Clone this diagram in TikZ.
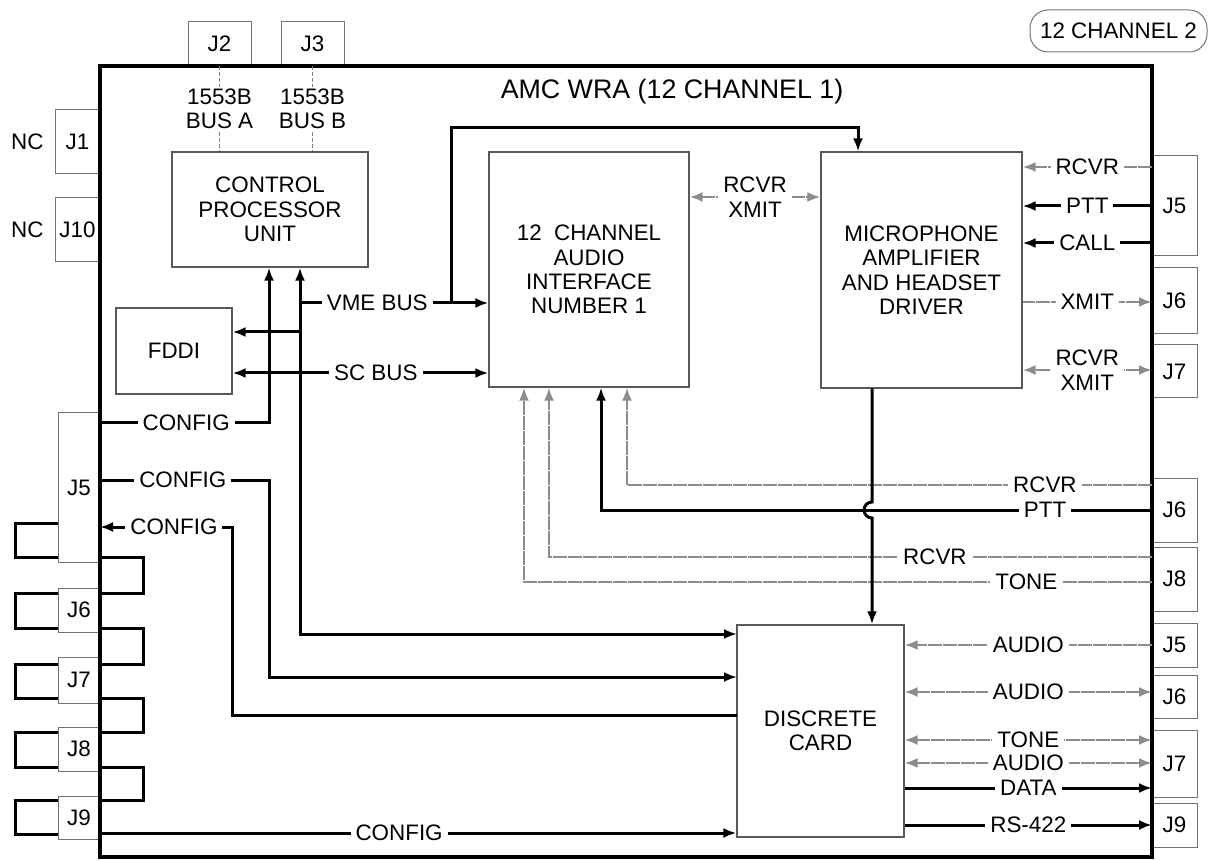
\documentclass[tikz,border=0pt]{standalone}
\usepackage{fontspec}
\setmainfont{Liberation Sans}
\usetikzlibrary{arrows.meta,positioning}
\newcommand\lblfont{\fontsize{11.2}{12.2}\selectfont}

\begin{document}
\begin{tikzpicture}[x=0.5pt,y=-0.5pt,font=\lblfont,>={Latex[length=6.5pt,width=5pt]},
  blk/.style={draw=black!65,line width=0.6pt,fill=white,align=center,inner sep=0pt},
  jbox/.style={draw=black!55,line width=0.5pt,fill=white,inner sep=0pt,minimum width=22.5pt},
  bsig/.style={line width=1.5pt,black},
  gsig/.style={line width=1.2pt,black!45,dash pattern=on 7pt off 0.5pt},
  tsig/.style={line width=0.6pt,black!50,dash pattern=on 2pt off 1pt},
  wire/.style={line width=1.5pt,black},
  lbl/.style={fill=white,text=black,inner xsep=2.5pt,inner ysep=1.5pt,align=center}]
\useasboundingbox (0,0) rectangle (1211,861);

% loop-back wiring on the left
\foreach \a/\b in {523/557,593/628,664/698,732/767,800/834}
  \draw[wire] (58,\a) -- (15,\a) -- (15,\b) -- (58,\b);
\foreach \a/\b in {557/593,628/664,698/732,767/800}
  \draw[wire] (100,\a) -- (143,\a) -- (143,\b) -- (100,\b);

% connectors
\node[jbox,minimum width=31.5pt,minimum height=22pt] (J2) at (219.5,44) {J2};
\node[jbox,minimum width=31.5pt,minimum height=22pt] (J3) at (312.5,44) {J3};
\node[jbox,minimum height=32pt] (J1) at (77.5,142) {J1};
\node[jbox,minimum height=32pt] (J10) at (77.5,230) {J10};
\node[left=2pt of J1] (nc1) {NC};
\node[left=2pt of J10] (nc10) {NC};
\node[jbox,minimum width=21pt,minimum height=74.5pt] (lJ5) at (79,487.5) {J5};
\node[jbox,minimum width=21pt,minimum height=22pt] (lJ6) at (79,610) {J6};
\node[jbox,minimum width=21pt,minimum height=23pt] (lJ7) at (79,680) {J7};
\node[jbox,minimum width=21pt,minimum height=22pt] (lJ8) at (79,749) {J8};
\node[jbox,minimum width=21pt,minimum height=21.5pt] (lJ9) at (79,817.5) {J9};
\node[jbox,minimum height=50pt] (rJ5a) at (1174.5,206) {J5};
\node[jbox,minimum height=33pt] (rJ6a) at (1174.5,301) {J6};
\node[jbox,minimum height=26.5pt] (rJ7a) at (1174.5,371.5) {J7};
\node[jbox,minimum height=32pt] (rJ6b) at (1174.5,510) {J6};
\node[jbox,minimum height=32pt] (rJ8) at (1174.5,579) {J8};
\node[jbox,minimum height=22pt] (rJ5b) at (1174.5,645) {J5};
\node[jbox,minimum height=21.5pt] (rJ6c) at (1174.5,696.5) {J6};
\node[jbox,minimum height=33.5pt] (rJ7b) at (1174.5,763.5) {J7};
\node[jbox,minimum height=22pt] (rJ9) at (1174.5,825) {J9};

\node[draw=black!55,line width=0.5pt,rounded corners=9pt,minimum width=88.5pt,minimum height=21pt] (ch2) at (1118.5,31) {12 CHANNEL 2};

% unit outline and blocks
\node[draw=black,line width=1.6pt,minimum width=526pt,minimum height=395.5pt,inner sep=0pt] (wra) at (626,461.5) {};
\node[font=\fontsize{13.4}{15}\selectfont] (title) at (672,92) {AMC WRA (12 CHANNEL 1)};
\node[blk,minimum width=98pt,minimum height=57.5pt] (cpu) at (270,209.5) {CONTROL\\PROCESSOR\\UNIT};
\node[blk,minimum width=58pt,minimum height=43pt] (fddi) at (174,351) {FDDI};
\node[blk,minimum width=100pt,minimum height=117.5pt] (aif) at (589,269.5) {12~~CHANNEL\\AUDIO\\INTERFACE\\NUMBER 1};
\node[blk,minimum width=100.5pt,minimum height=118pt] (mic) at (921.5,270) {MICROPHONE\\AMPLIFIER\\AND HEADSET\\DRIVER};
\node[blk,minimum width=83.5pt,minimum height=106pt] (disc) at (820.5,731) {DISCRETE\\CARD};

\coordinate (xA) at (269,0);
\coordinate (xB) at (300,0);
\coordinate (xC) at (232,0);
\coordinate (cf1) at (100,423);
\coordinate (cf2) at (100,480);
\coordinate (cf3) at (100,527);
\coordinate (cf4) at (100,833);
\coordinate (vme) at (300,303);
\coordinate (tap) at (451,303);
\coordinate (mtop) at (858,128);
\coordinate (fd) at (300,332);
\coordinate (sc) at (300,373);
\coordinate (dA) at (737,634);
\coordinate (dB) at (737,677);
\coordinate (dC) at (737,715);
\coordinate (rx) at (689,197);

% bus lines
\draw[tsig] (J2.south) -- node[lbl,inner ysep=1pt]{1553B\\BUS A} (cpu.north -| J2.south);
\draw[tsig] (J3.south) -- node[lbl,inner ysep=1pt]{1553B\\BUS B} (cpu.north -| J3.south);
\draw[bsig,->] (cf1) -- node[lbl,pos=0.51]{CONFIG} (cf1 -| xA) -- (cpu.south -| xA);
\draw[bsig,<->] (cpu.south -| xB) |- (dA);
\draw[bsig,->] (vme) -- node[lbl,pos=0.41]{VME BUS} (aif.west |- vme);
\draw[bsig,->] (tap) |- (mtop) -- (mic.north -| mtop);
\draw[bsig,->] (fd) -- (fddi.east |- fd);
\draw[bsig,<->] (fddi.east |- sc) -- node[lbl,pos=0.56]{SC BUS} (aif.west |- sc);
\draw[bsig,->] (cf2) -- node[lbl,pos=0.49]{CONFIG} (cf2 -| xA) |- (dB);
\draw[bsig,->] (dC) -| (cf3 -| xC) -- node[lbl,pos=0.44]{CONFIG} (cf3);
\draw[bsig,->] (cf4) -- node[lbl,pos=0.47]{CONFIG} (disc.west |- cf4);
\draw[gsig,<->] (aif.east |- rx) -- node[lbl]{RCVR\\XMIT} (mic.west |- rx);

% headset side
\coordinate (mR1) at (1152,167);
\coordinate (mR2) at (1152,206);
\coordinate (mR3) at (1152,243);
\coordinate (mR4) at (1152,302);
\coordinate (mR5) at (1152,370);
\draw[gsig,->] (mR1) -- node[lbl]{RCVR} (mic.east |- mR1);
\draw[bsig,->] (mR2) -- node[lbl]{PTT} (mic.east |- mR2);
\draw[bsig,->] (mR3) -- node[lbl]{CALL} (mic.east |- mR3);
\draw[gsig,<-] (mR4) -- node[lbl]{XMIT} (mic.east |- mR4);
\draw[gsig,<->] (mR5) -- node[lbl]{RCVR\\XMIT} (mic.east |- mR5);

% into the audio interface from below
\coordinate (aR1) at (1152,485);
\coordinate (aR2) at (1152,510);
\coordinate (aR3) at (1152,557);
\coordinate (aR4) at (1152,582);
\coordinate (xR1) at (627,0);
\coordinate (xR2) at (601,0);
\coordinate (xR3) at (549,0);
\coordinate (xR4) at (524,0);
\draw[gsig,->] (aR1) -| node[lbl,pos=0.102]{RCVR} (aif.south -| xR1);
\draw[bsig,->] (aR2) -| node[lbl,pos=0.097]{PTT} (aif.south -| xR2);
\draw[gsig,->] (aR3) -| node[lbl,pos=0.18]{RCVR} (aif.south -| xR3);
\draw[gsig,->] (aR4) -| node[lbl,pos=0.1]{TONE} (aif.south -| xR4);

\coordinate (hop) at (872,502);
\draw[bsig,->] (mic.south -| hop) -- (hop) arc[start angle=-90,end angle=-270,radius=8] -- (disc.north -| hop);

% discrete card side
\coordinate (dR1) at (1152,645);
\coordinate (dR2) at (1152,692);
\coordinate (dR3) at (1152,740);
\coordinate (dR4) at (1152,763);
\coordinate (dR5) at (1152,788);
\coordinate (dR6) at (1152,825);
\draw[gsig,->] (dR1) -- node[lbl]{AUDIO} (disc.east |- dR1);
\draw[gsig,<->] (dR2) -- node[lbl]{AUDIO} (disc.east |- dR2);
\draw[gsig,<->] (dR3) -- node[lbl]{TONE} (disc.east |- dR3);
\draw[gsig,<->] (dR4) -- node[lbl]{AUDIO} (disc.east |- dR4);
\draw[bsig,<-] (dR5) -- node[lbl]{DATA} (disc.east |- dR5);
\draw[bsig,<-] (dR6) -- node[lbl]{RS-422} (disc.east |- dR6);
\end{tikzpicture}
\end{document}
